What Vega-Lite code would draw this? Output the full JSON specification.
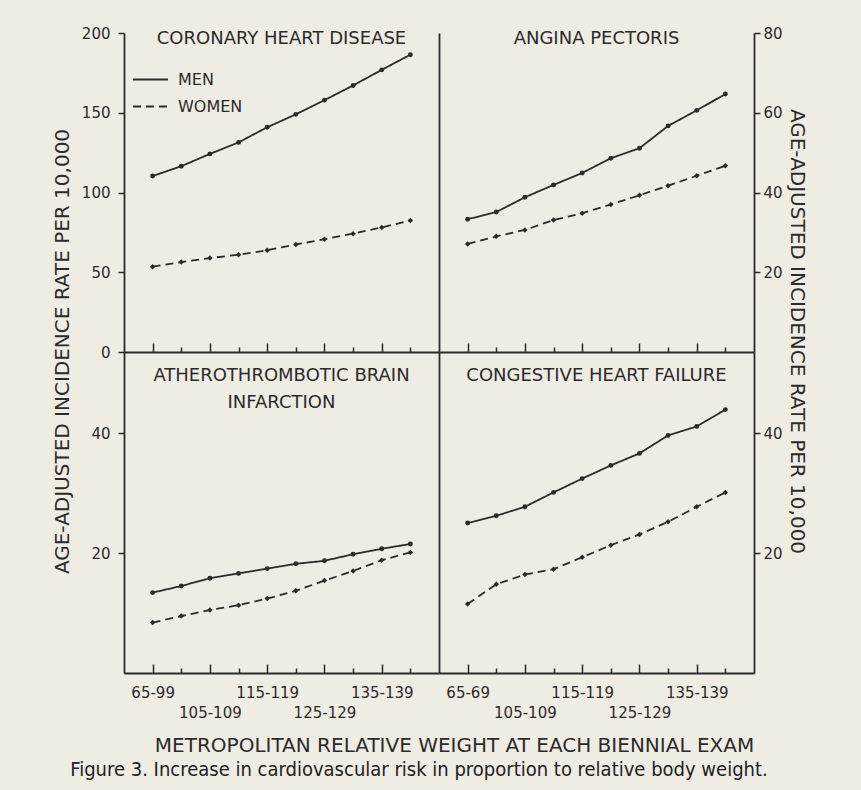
{
  "$schema": "https://vega.github.io/schema/vega-lite/v6.json",
  "background": "#efece4",
  "padding": {"left": 51, "top": 26, "right": 72, "bottom": 14},
  "datasets": {
    "rates": [
      {"panel": "CHD", "sex": "MEN", "weight": "65-99", "rate": 110.3},
      {"panel": "CHD", "sex": "MEN", "weight": "100-104", "rate": 116.5},
      {"panel": "CHD", "sex": "MEN", "weight": "105-109", "rate": 124.2},
      {"panel": "CHD", "sex": "MEN", "weight": "110-114", "rate": 131.4},
      {"panel": "CHD", "sex": "MEN", "weight": "115-119", "rate": 140.9},
      {"panel": "CHD", "sex": "MEN", "weight": "120-124", "rate": 149.0},
      {"panel": "CHD", "sex": "MEN", "weight": "125-129", "rate": 157.9},
      {"panel": "CHD", "sex": "MEN", "weight": "130-134", "rate": 167.1},
      {"panel": "CHD", "sex": "MEN", "weight": "135-139", "rate": 176.9},
      {"panel": "CHD", "sex": "MEN", "weight": "140+", "rate": 186.4},
      {"panel": "CHD", "sex": "WOMEN", "weight": "65-99", "rate": 53.5},
      {"panel": "CHD", "sex": "WOMEN", "weight": "100-104", "rate": 56.4},
      {"panel": "CHD", "sex": "WOMEN", "weight": "105-109", "rate": 58.9},
      {"panel": "CHD", "sex": "WOMEN", "weight": "110-114", "rate": 61.0},
      {"panel": "CHD", "sex": "WOMEN", "weight": "115-119", "rate": 63.8},
      {"panel": "CHD", "sex": "WOMEN", "weight": "120-124", "rate": 67.4},
      {"panel": "CHD", "sex": "WOMEN", "weight": "125-129", "rate": 70.7},
      {"panel": "CHD", "sex": "WOMEN", "weight": "130-134", "rate": 74.2},
      {"panel": "CHD", "sex": "WOMEN", "weight": "135-139", "rate": 78.1},
      {"panel": "CHD", "sex": "WOMEN", "weight": "140+", "rate": 82.4},
      {"panel": "AP", "sex": "MEN", "weight": "65-99", "rate": 33.3},
      {"panel": "AP", "sex": "MEN", "weight": "100-104", "rate": 35.1},
      {"panel": "AP", "sex": "MEN", "weight": "105-109", "rate": 38.8},
      {"panel": "AP", "sex": "MEN", "weight": "110-114", "rate": 41.9},
      {"panel": "AP", "sex": "MEN", "weight": "115-119", "rate": 44.9},
      {"panel": "AP", "sex": "MEN", "weight": "120-124", "rate": 48.6},
      {"panel": "AP", "sex": "MEN", "weight": "125-129", "rate": 51.1},
      {"panel": "AP", "sex": "MEN", "weight": "130-134", "rate": 56.7},
      {"panel": "AP", "sex": "MEN", "weight": "135-139", "rate": 60.6},
      {"panel": "AP", "sex": "MEN", "weight": "140+", "rate": 64.7},
      {"panel": "AP", "sex": "WOMEN", "weight": "65-99", "rate": 27.1},
      {"panel": "AP", "sex": "WOMEN", "weight": "100-104", "rate": 29.0},
      {"panel": "AP", "sex": "WOMEN", "weight": "105-109", "rate": 30.6},
      {"panel": "AP", "sex": "WOMEN", "weight": "110-114", "rate": 33.1},
      {"panel": "AP", "sex": "WOMEN", "weight": "115-119", "rate": 34.8},
      {"panel": "AP", "sex": "WOMEN", "weight": "120-124", "rate": 37.0},
      {"panel": "AP", "sex": "WOMEN", "weight": "125-129", "rate": 39.3},
      {"panel": "AP", "sex": "WOMEN", "weight": "130-134", "rate": 41.7},
      {"panel": "AP", "sex": "WOMEN", "weight": "135-139", "rate": 44.2},
      {"panel": "AP", "sex": "WOMEN", "weight": "140+", "rate": 46.7},
      {"panel": "ABI", "sex": "MEN", "weight": "65-99", "rate": 13.4},
      {"panel": "ABI", "sex": "MEN", "weight": "100-104", "rate": 14.5},
      {"panel": "ABI", "sex": "MEN", "weight": "105-109", "rate": 15.8},
      {"panel": "ABI", "sex": "MEN", "weight": "110-114", "rate": 16.6},
      {"panel": "ABI", "sex": "MEN", "weight": "115-119", "rate": 17.4},
      {"panel": "ABI", "sex": "MEN", "weight": "120-124", "rate": 18.2},
      {"panel": "ABI", "sex": "MEN", "weight": "125-129", "rate": 18.7},
      {"panel": "ABI", "sex": "MEN", "weight": "130-134", "rate": 19.8},
      {"panel": "ABI", "sex": "MEN", "weight": "135-139", "rate": 20.7},
      {"panel": "ABI", "sex": "MEN", "weight": "140+", "rate": 21.5},
      {"panel": "ABI", "sex": "WOMEN", "weight": "65-99", "rate": 8.4},
      {"panel": "ABI", "sex": "WOMEN", "weight": "100-104", "rate": 9.5},
      {"panel": "ABI", "sex": "WOMEN", "weight": "105-109", "rate": 10.5},
      {"panel": "ABI", "sex": "WOMEN", "weight": "110-114", "rate": 11.3},
      {"panel": "ABI", "sex": "WOMEN", "weight": "115-119", "rate": 12.4},
      {"panel": "ABI", "sex": "WOMEN", "weight": "120-124", "rate": 13.7},
      {"panel": "ABI", "sex": "WOMEN", "weight": "125-129", "rate": 15.4},
      {"panel": "ABI", "sex": "WOMEN", "weight": "130-134", "rate": 17.0},
      {"panel": "ABI", "sex": "WOMEN", "weight": "135-139", "rate": 18.8},
      {"panel": "ABI", "sex": "WOMEN", "weight": "140+", "rate": 20.1},
      {"panel": "CHF", "sex": "MEN", "weight": "65-99", "rate": 25.0},
      {"panel": "CHF", "sex": "MEN", "weight": "100-104", "rate": 26.2},
      {"panel": "CHF", "sex": "MEN", "weight": "105-109", "rate": 27.7},
      {"panel": "CHF", "sex": "MEN", "weight": "110-114", "rate": 30.1},
      {"panel": "CHF", "sex": "MEN", "weight": "115-119", "rate": 32.4},
      {"panel": "CHF", "sex": "MEN", "weight": "120-124", "rate": 34.6},
      {"panel": "CHF", "sex": "MEN", "weight": "125-129", "rate": 36.6},
      {"panel": "CHF", "sex": "MEN", "weight": "130-134", "rate": 39.6},
      {"panel": "CHF", "sex": "MEN", "weight": "135-139", "rate": 41.1},
      {"panel": "CHF", "sex": "MEN", "weight": "140+", "rate": 43.9},
      {"panel": "CHF", "sex": "WOMEN", "weight": "65-99", "rate": 11.5},
      {"panel": "CHF", "sex": "WOMEN", "weight": "100-104", "rate": 14.8},
      {"panel": "CHF", "sex": "WOMEN", "weight": "105-109", "rate": 16.4},
      {"panel": "CHF", "sex": "WOMEN", "weight": "110-114", "rate": 17.3},
      {"panel": "CHF", "sex": "WOMEN", "weight": "115-119", "rate": 19.3},
      {"panel": "CHF", "sex": "WOMEN", "weight": "120-124", "rate": 21.3},
      {"panel": "CHF", "sex": "WOMEN", "weight": "125-129", "rate": 23.1},
      {"panel": "CHF", "sex": "WOMEN", "weight": "130-134", "rate": 25.2},
      {"panel": "CHF", "sex": "WOMEN", "weight": "135-139", "rate": 27.7},
      {"panel": "CHF", "sex": "WOMEN", "weight": "140+", "rate": 30.1}
    ]
  },
  "title": {
    "text": "Figure 3. Increase in cardiovascular risk in proportion to relative body weight.",
    "orient": "bottom", "anchor": "middle", "frame": "bounds", "dx": -10, "offset": 5,
    "font": "Liberation Sans Narrow, DejaVu Sans Condensed, sans-serif",
    "fontSize": 20, "fontWeight": "normal", "color": "#222222"
  },
  "config": {
    "view": {"stroke": null},
    "axis": {
      "grid": false, "domainColor": "#2b2b2b", "domainWidth": 1.8,
      "tickColor": "#2b2b2b", "tickWidth": 1.5,
      "labelFont": "DejaVu Sans", "labelFontSize": 15, "labelColor": "#2b2b2b",
      "titleFont": "DejaVu Sans", "titleFontSize": 20, "titleFontWeight": "normal", "titleColor": "#2b2b2b",
      "labelOverlap": false, "labelAngle": 0
    },
    "title": {"font": "DejaVu Sans", "fontSize": 18, "fontWeight": "normal", "color": "#2b2b2b", "frame": "group", "anchor": "middle"}
  },
  "columns": 2,
  "spacing": 0,
  "bounds": "flush",
  "resolve": {"scale": {"strokeDash": "independent"}, "legend": {"strokeDash": "independent"}},
  "concat": [
    {
      "width": 315, "height": 319,
      "title": {"text": "CORONARY HEART DISEASE", "offset": -31, "baseline": "middle"},
      "data": {"name": "rates"},
      "transform": [{"filter": "datum.panel == 'CHD'"}],
      "resolve": {"axis": {"x": "independent", "y": "independent"}},
      "layer": [
        {
          "mark": {"type": "line", "color": "#2b2b2b", "strokeWidth": 1.8},
          "encoding": {
            "x": {"field": "weight", "type": "ordinal",
              "scale": {"type": "point", "padding": 1, "domain": ["65-99", "100-104", "105-109", "110-114", "115-119", "120-124", "125-129", "130-134", "135-139", "140+"]},
              "axis": {"orient": "bottom", "values": ["65-99", "105-109", "115-119", "125-129", "135-139"], "labels": false, "tickSize": -9, "title": null}},
            "y": {"field": "rate", "type": "quantitative", "scale": {"domain": [0, 200], "nice": false, "zero": true},
              "axis": {"orient": "left", "values": [0, 50, 100, 150, 200], "tickSize": 6, "labelPadding": 8,
                "title": "AGE-ADJUSTED INCIDENCE RATE PER 10,000", "titleX": -62, "titleY": 318, "titleAngle": 270, "titleBaseline": "middle", "titleAlign": "center"}},
            "strokeDash": {"field": "sex", "type": "nominal",
              "scale": {"domain": ["MEN", "WOMEN"], "range": [[1, 0], [8, 5]]},
              "legend": {"orient": "none", "legendX": 8, "legendY": 28, "title": null, "padding": 0,
                "symbolType": "stroke", "symbolSize": 1225, "symbolStrokeWidth": 1.8, "symbolStrokeColor": "#2b2b2b",
                "labelFont": "DejaVu Sans", "labelFontSize": 16, "labelColor": "#2b2b2b", "labelOffset": 9, "rowPadding": -16}}
          }
        },
        {
          "transform": [{"filter": "datum.sex == 'MEN'"}],
          "mark": {"type": "point", "shape": "circle", "filled": true, "color": "#2b2b2b", "opacity": 1, "size": 24},
          "encoding": {
            "x": {"field": "weight", "type": "ordinal",
              "axis": {"orient": "bottom", "values": ["100-104", "110-114", "120-124", "130-134", "140+"], "labels": false, "tickSize": -5, "domain": false, "title": null}},
            "y": {"field": "rate", "type": "quantitative", "axis": null}
          }
        },
        {
          "transform": [{"filter": "datum.sex == 'WOMEN'"}],
          "mark": {"type": "point", "shape": "diamond", "filled": true, "color": "#2b2b2b", "opacity": 1, "size": 30},
          "encoding": {
            "x": {"field": "weight", "type": "ordinal", "axis": null},
            "y": {"field": "rate", "type": "quantitative", "axis": null}
          }
        }
      ]
    },
    {
      "width": 315, "height": 319,
      "title": {"text": "ANGINA PECTORIS", "offset": -31, "baseline": "middle"},
      "data": {"name": "rates"},
      "transform": [{"filter": "datum.panel == 'AP'"}],
      "resolve": {"axis": {"x": "independent", "y": "independent"}},
      "layer": [
        {
          "mark": {"type": "line", "color": "#2b2b2b", "strokeWidth": 1.8},
          "encoding": {
            "x": {"field": "weight", "type": "ordinal",
              "scale": {"type": "point", "padding": 1, "domain": ["65-99", "100-104", "105-109", "110-114", "115-119", "120-124", "125-129", "130-134", "135-139", "140+"]},
              "axis": {"orient": "bottom", "values": ["65-99", "105-109", "115-119", "125-129", "135-139"], "labels": false, "tickSize": -9, "title": null}},
            "y": {"field": "rate", "type": "quantitative", "scale": {"domain": [0, 80], "nice": false},
              "axis": {"orient": "right", "values": [20, 40, 60, 80], "tickSize": 6, "labelPadding": 3,
                "title": "AGE-ADJUSTED INCIDENCE RATE PER 10,000", "titleX": 42, "titleY": 298, "titleAngle": 90, "titleBaseline": "middle", "titleAlign": "center"}},
            "strokeDash": {"field": "sex", "type": "nominal", "scale": {"domain": ["MEN", "WOMEN"], "range": [[1, 0], [8, 5]]}, "legend": null}
          }
        },
        {
          "transform": [{"filter": "datum.sex == 'MEN'"}],
          "mark": {"type": "point", "shape": "circle", "filled": true, "color": "#2b2b2b", "opacity": 1, "size": 24},
          "encoding": {
            "x": {"field": "weight", "type": "ordinal",
              "axis": {"orient": "bottom", "values": ["100-104", "110-114", "120-124", "130-134", "140+"], "labels": false, "tickSize": -5, "domain": false, "title": null}},
            "y": {"field": "rate", "type": "quantitative",
              "axis": {"orient": "left", "labels": false, "ticks": false, "title": null}}
          }
        },
        {
          "transform": [{"filter": "datum.sex == 'WOMEN'"}],
          "mark": {"type": "point", "shape": "diamond", "filled": true, "color": "#2b2b2b", "opacity": 1, "size": 30},
          "encoding": {
            "x": {"field": "weight", "type": "ordinal", "axis": null},
            "y": {"field": "rate", "type": "quantitative", "axis": null}
          }
        }
      ]
    },
    {
      "width": 315, "height": 321,
      "title": {"text": ["ATHEROTHROMBOTIC BRAIN", "INFARCTION"], "offset": -69, "baseline": "middle", "lineHeight": 27},
      "data": {"name": "rates"},
      "transform": [{"filter": "datum.panel == 'ABI'"}],
      "resolve": {"axis": {"x": "independent", "y": "independent"}},
      "layer": [
        {
          "mark": {"type": "line", "color": "#2b2b2b", "strokeWidth": 1.8},
          "encoding": {
            "x": {"field": "weight", "type": "ordinal",
              "scale": {"type": "point", "padding": 1, "domain": ["65-99", "100-104", "105-109", "110-114", "115-119", "120-124", "125-129", "130-134", "135-139", "140+"]},
              "axis": {"orient": "bottom", "values": ["65-99", "105-109", "115-119", "125-129", "135-139"], "tickSize": -9, "labelPadding": 21, "labelLineHeight": 20,
                "labelExpr": "indexof(['105-109', '125-129'], datum.value) >= 0 ? ['', datum.value] : datum.value",
                "title": "METROPOLITAN RELATIVE WEIGHT AT EACH BIENNIAL EXAM", "titleX": 330, "titleY": 72, "titleBaseline": "middle", "titleAlign": "center"}},
            "y": {"field": "rate", "type": "quantitative", "scale": {"domain": [0, 53.5], "nice": false},
              "axis": {"orient": "left", "values": [20, 40], "tickSize": 6, "labelPadding": 8, "title": null}},
            "strokeDash": {"field": "sex", "type": "nominal", "scale": {"domain": ["MEN", "WOMEN"], "range": [[1, 0], [8, 5]]}, "legend": null}
          }
        },
        {
          "transform": [{"filter": "datum.sex == 'MEN'"}],
          "mark": {"type": "point", "shape": "circle", "filled": true, "color": "#2b2b2b", "opacity": 1, "size": 24},
          "encoding": {
            "x": {"field": "weight", "type": "ordinal",
              "axis": {"orient": "bottom", "values": ["100-104", "110-114", "120-124", "130-134", "140+"], "labels": false, "tickSize": -5, "domain": false, "title": null}},
            "y": {"field": "rate", "type": "quantitative", "axis": null}
          }
        },
        {
          "transform": [{"filter": "datum.sex == 'WOMEN'"}],
          "mark": {"type": "point", "shape": "diamond", "filled": true, "color": "#2b2b2b", "opacity": 1, "size": 30},
          "encoding": {
            "x": {"field": "weight", "type": "ordinal", "axis": null},
            "y": {"field": "rate", "type": "quantitative", "axis": null}
          }
        }
      ]
    },
    {
      "width": 315, "height": 321,
      "title": {"text": "CONGESTIVE HEART FAILURE", "offset": -42, "baseline": "middle"},
      "data": {"name": "rates"},
      "transform": [{"filter": "datum.panel == 'CHF'"}],
      "resolve": {"axis": {"x": "independent", "y": "independent"}},
      "layer": [
        {
          "mark": {"type": "line", "color": "#2b2b2b", "strokeWidth": 1.8},
          "encoding": {
            "x": {"field": "weight", "type": "ordinal",
              "scale": {"type": "point", "padding": 1, "domain": ["65-99", "100-104", "105-109", "110-114", "115-119", "120-124", "125-129", "130-134", "135-139", "140+"]},
              "axis": {"orient": "bottom", "values": ["65-99", "105-109", "115-119", "125-129", "135-139"], "tickSize": -9, "labelPadding": 21, "labelLineHeight": 20,
                "labelExpr": "datum.value == '65-99' ? '65-69' : indexof(['105-109', '125-129'], datum.value) >= 0 ? ['', datum.value] : datum.value",
                "title": null}},
            "y": {"field": "rate", "type": "quantitative", "scale": {"domain": [0, 53.5], "nice": false},
              "axis": {"orient": "right", "values": [20, 40], "tickSize": 6, "labelPadding": 3, "title": null}},
            "strokeDash": {"field": "sex", "type": "nominal", "scale": {"domain": ["MEN", "WOMEN"], "range": [[1, 0], [8, 5]]}, "legend": null}
          }
        },
        {
          "transform": [{"filter": "datum.sex == 'MEN'"}],
          "mark": {"type": "point", "shape": "circle", "filled": true, "color": "#2b2b2b", "opacity": 1, "size": 24},
          "encoding": {
            "x": {"field": "weight", "type": "ordinal",
              "axis": {"orient": "bottom", "values": ["100-104", "110-114", "120-124", "130-134", "140+"], "labels": false, "tickSize": -5, "domain": false, "title": null}},
            "y": {"field": "rate", "type": "quantitative",
              "axis": {"orient": "left", "labels": false, "ticks": false, "title": null}}
          }
        },
        {
          "transform": [{"filter": "datum.sex == 'WOMEN'"}],
          "mark": {"type": "point", "shape": "diamond", "filled": true, "color": "#2b2b2b", "opacity": 1, "size": 30},
          "encoding": {
            "x": {"field": "weight", "type": "ordinal", "axis": null},
            "y": {"field": "rate", "type": "quantitative", "axis": null}
          }
        }
      ]
    }
  ]
}
